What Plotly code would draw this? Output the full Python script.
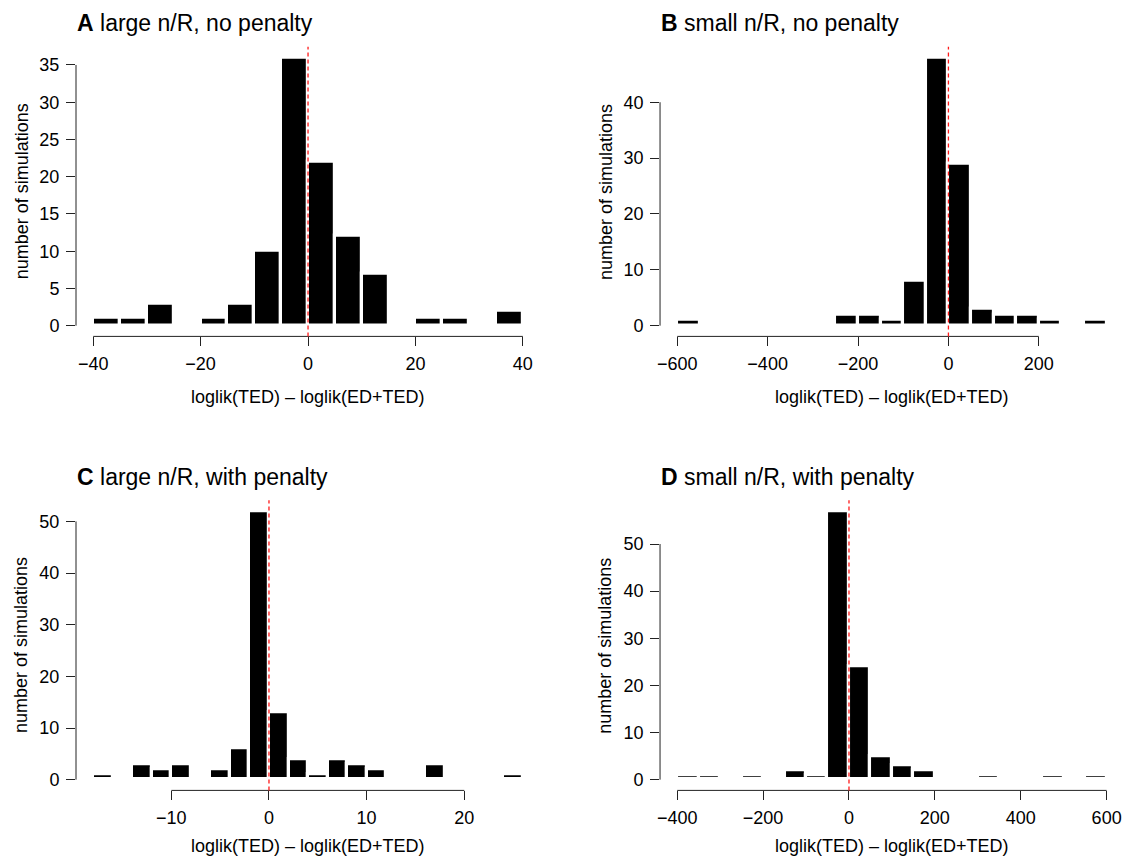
import plotly.graph_objects as go

# ---- histogram data: left bin edges, bin width and counts per panel ----
a_edges = [-40, -35, -30, -25, -20, -15, -10, -5, 0, 5, 10, 15, 20, 25, 30, 35]
a_width = 5
a_counts = [1, 1, 3, 0, 1, 3, 10, 36, 22, 12, 7, 0, 1, 1, 0, 2]

b_edges = [-600, -550, -500, -450, -400, -350, -300, -250, -200, -150,
           -100, -50, 0, 50, 100, 150, 200, 250, 300]
b_width = 50
b_counts = [1, 0, 0, 0, 0, 0, 0, 2, 2, 1, 8, 48, 29, 3, 2, 2, 1, 0, 1]

c_edges = [-18, -16, -14, -12, -10, -8, -6, -4, -2, 0, 2, 4, 6, 8, 10,
           12, 14, 16, 18, 20, 22, 24]
c_width = 2
c_counts = [1, 0, 3, 2, 3, 0, 2, 6, 52, 13, 4, 1, 4, 3, 2, 0, 0, 3, 0, 0, 0, 1]

d_edges = [-400, -350, -300, -250, -200, -150, -100, -50, 0, 50, 100, 150,
           200, 250, 300, 350, 400, 450, 500, 550]
d_width = 50
d_counts = [1, 1, 0, 1, 0, 2, 1, 57, 24, 5, 3, 2, 0, 0, 1, 0, 0, 1, 0, 1]

# axis tick values
a_xticks = [-40, -20, 0, 20, 40]
a_yticks = [0, 5, 10, 15, 20, 25, 30, 35]
b_xticks = [-600, -400, -200, 0, 200]
b_yticks = [0, 10, 20, 30, 40]
c_xticks = [-10, 0, 10, 20]
c_yticks = [0, 10, 20, 30, 40, 50]
d_xticks = [-400, -200, 0, 200, 400, 600]
d_yticks = [0, 10, 20, 30, 40, 50]

titles = [("A", "large n/R, no penalty"),
          ("B", "small n/R, no penalty"),
          ("C", "large n/R, with penalty"),
          ("D", "small n/R, with penalty")]

x_label = "loglik(TED) \u2013 loglik(ED+TED)"
y_label = "number of simulations"

FONT = "Liberation Sans, Arial, Helvetica, sans-serif"
W, H = 1127, 859

# plot-region domains (paper fractions)
left_dom = [73.2 / W, 538.5 / W]
right_dom = [658.8 / W, 1123.8 / W]
top_dom = [1 - 336.4 / H, 1 - 46.8 / H]
bot_dom = [1 - 790.4 / H, 1 - 500.3 / H]

panels = [
    dict(edges=a_edges, width=a_width, counts=a_counts, xt=a_xticks, yt=a_yticks,
         xd=left_dom, yd=top_dom),
    dict(edges=b_edges, width=b_width, counts=b_counts, xt=b_xticks, yt=b_yticks,
         xd=right_dom, yd=top_dom),
    dict(edges=c_edges, width=c_width, counts=c_counts, xt=c_xticks, yt=c_yticks,
         xd=left_dom, yd=bot_dom),
    dict(edges=d_edges, width=d_width, counts=d_counts, xt=d_xticks, yt=d_yticks,
         xd=right_dom, yd=bot_dom),
]

fig = go.Figure()
shapes = []
annotations = []
layout_axes = {}

for i, p in enumerate(panels):
    n = "" if i == 0 else str(i + 1)
    xref, yref = "x" + n, "y" + n
    w = p["width"]
    centers = [e + w / 2 for e in p["edges"]]

    fig.add_trace(go.Bar(
        x=centers, y=p["counts"], width=[w] * len(centers),
        marker=dict(color="black", line=dict(color="white", width=3.2)),
        xaxis=xref, yaxis=yref, showlegend=False, hoverinfo="x+y",
    ))

    # data range padded by 4% on each side
    x_lo = min(p["edges"])
    x_hi = max(p["edges"]) + w
    xpad = 0.04 * (x_hi - x_lo)
    y_hi = max(p["counts"])
    ypad = 0.04 * y_hi

    tick_style = dict(ticks="outside", ticklen=9, tickwidth=1, tickcolor="#222",
                      showline=False, showgrid=False, zeroline=False,
                      tickfont=dict(family=FONT, size=18, color="black"))

    layout_axes["xaxis" + n] = dict(
        domain=p["xd"], anchor=yref, range=[x_lo - xpad, x_hi + xpad],
        tickmode="array", tickvals=p["xt"], ticklabelstandoff=2, **tick_style)
    layout_axes["yaxis" + n] = dict(
        domain=p["yd"], anchor=xref, range=[-ypad, y_hi + ypad],
        tickmode="array", tickvals=p["yt"], ticklabelstandoff=3, **tick_style)

    # axis lines spanning first to last tick
    shapes.append(dict(type="line", xref=xref, yref=yref + " domain",
                       x0=p["xt"][0], x1=p["xt"][-1], y0=0, y1=0,
                       line=dict(color="#222", width=1)))
    shapes.append(dict(type="line", xref=xref + " domain", yref=yref,
                       x0=0, x1=0, y0=p["yt"][0], y1=p["yt"][-1],
                       line=dict(color="#222", width=1)))
    # dashed reference line at zero
    shapes.append(dict(type="line", xref=xref, yref=yref + " domain",
                       x0=0, x1=0, y0=0, y1=1,
                       line=dict(color="#ff1a1a", width=1.3, dash="4px,3px")))

    # panel title
    letter, text = titles[i]
    title_y = 23.3 if p["yd"] is top_dom else 476.7
    annotations.append(dict(
        text=f"<b>{letter}</b> {text}", xref="paper", yref="paper",
        x=p["xd"][0] - 1 / W, y=1 - title_y / H, xanchor="left", yanchor="middle",
        showarrow=False, font=dict(family=FONT, size=23, color="black")))

    # axis titles
    xt_y = 396.5 if p["yd"] is top_dom else 846.0
    annotations.append(dict(
        text=x_label, xref="paper", yref="paper",
        x=(p["xd"][0] + p["xd"][1]) / 2, y=1 - xt_y / H,
        xanchor="center", yanchor="middle", showarrow=False,
        font=dict(family=FONT, size=18, color="black")))
    yt_x = 18.8 if p["xd"] is left_dom else 604.0
    annotations.append(dict(
        text=y_label, xref="paper", yref="paper",
        x=yt_x / W, y=(p["yd"][0] + p["yd"][1]) / 2, textangle=-90,
        xanchor="center", yanchor="middle", showarrow=False,
        font=dict(family=FONT, size=18, color="black")))

fig.update_layout(
    width=W, height=H,
    margin=dict(l=0, r=0, t=0, b=0),
    paper_bgcolor="white", plot_bgcolor="white",
    bargap=0, barmode="overlay",
    shapes=shapes, annotations=annotations,
    font=dict(family=FONT, color="black"),
    **layout_axes,
)

fig.write_html("out.html")
